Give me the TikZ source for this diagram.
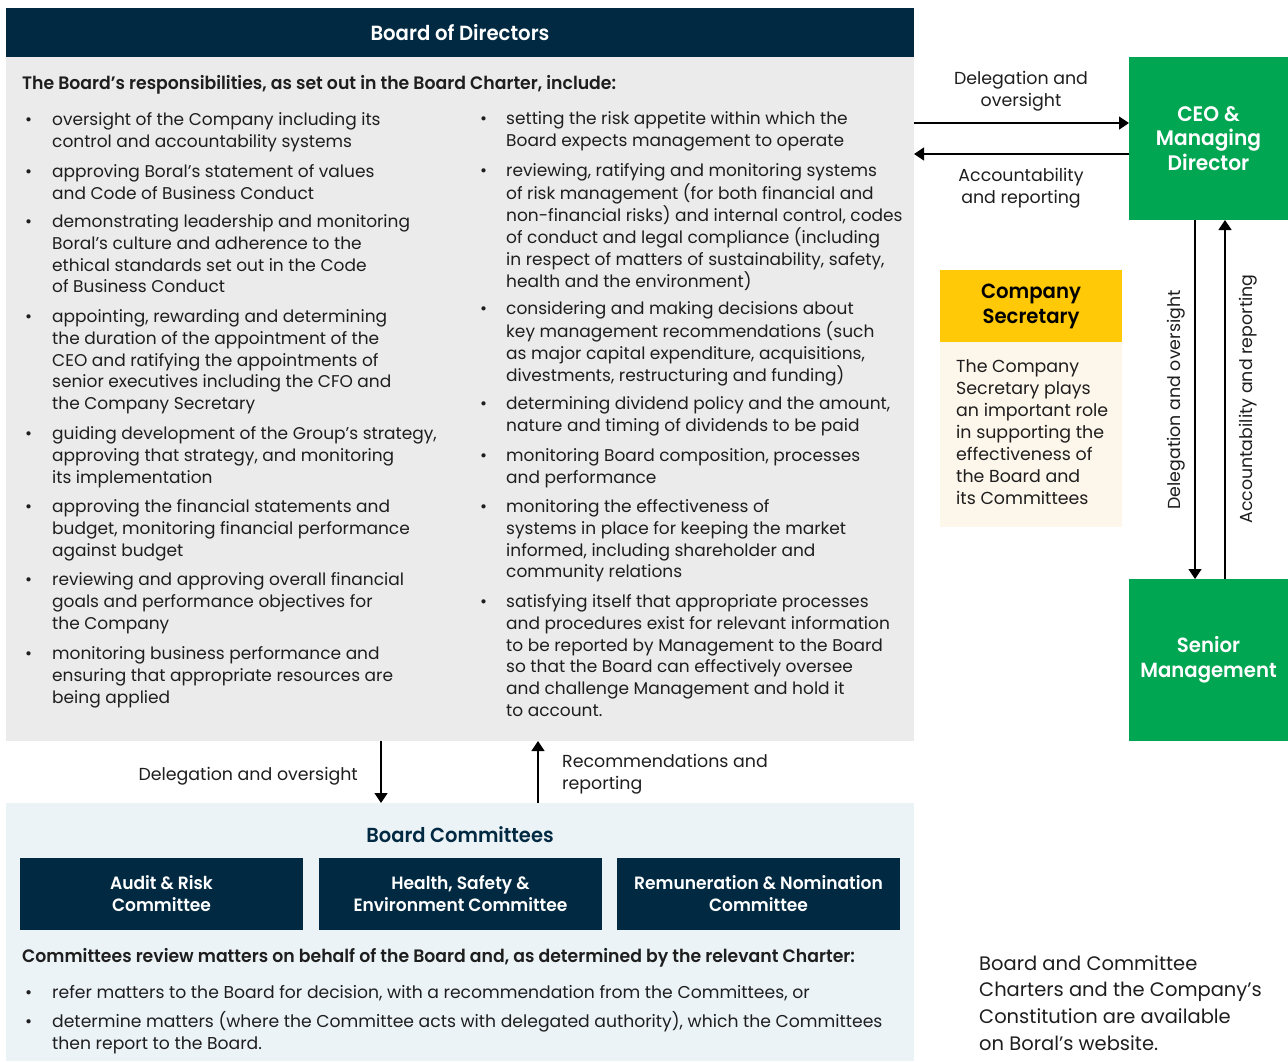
\documentclass[tikz,border=0pt]{standalone}
\usepackage{fontspec}
\setmainfont{Poppins}[BoldFont={Poppins SemiBold},BoldFeatures={FakeStretch=0.96}]
\usetikzlibrary{arrows.meta}
\definecolor{navy}{HTML}{012A42}
\definecolor{panelgray}{HTML}{EBEBEB}
\definecolor{paleblue}{HTML}{EBF3F7}
\definecolor{bgreen}{HTML}{00A651}
\definecolor{byellow}{HTML}{FFC907}
\definecolor{cream}{HTML}{FDF6EA}
\definecolor{ink}{HTML}{1E1E1E}
\newcommand\fbody{\fontsize{17}{21.9}\selectfont}
\newcommand\flab{\fontsize{17.4}{22}\selectfont}
\newcommand\fhead{\fontsize{18}{22}\selectfont\bfseries}
\newcommand\fbig{\fontsize{19.5}{26.7}\selectfont}
\newcommand\bitem[5]{%
 \node[btxt] (#1) at (#3,#4-15.33) {\strut#5};
 \node[btxt] (#1d) at (#2,#4-15.33) {\strut\textbullet};}
\newcommand\citem[5]{%
 \node[btxt,font=\fontsize{17.2}{22}\selectfont] (#1) at (#3,#4-15.4) {\strut#5};
 \node[btxt,font=\fontsize{17.2}{22}\selectfont] (#1d) at (#2,#4-15.4) {\strut\textbullet};}
\begin{document}
\begin{tikzpicture}[x=1pt,y=-1pt,
 box/.style={anchor=north west,inner sep=0pt,outer sep=0pt,draw=none},
 btxt/.style={anchor=north west,inner sep=0pt,align=left,font=\fbody,text=ink},
 lab/.style={inner sep=0pt,font=\flab,text=ink},
 arr/.style={-{Triangle[width=13pt,length=10pt]},line width=1.3pt,draw=black},
 ]
\useasboundingbox (0,0) rectangle (1288,1061);
\fill[white] (0,0) rectangle (1288,1061);
% main boxes
\node[box,fill=navy,minimum width=908pt,minimum height=49pt,text=white,font=\fontsize{20.5}{24}\selectfont\bfseries] (bod) at (6,8) {Board of Directors};
\node[box,fill=panelgray,minimum width=908pt,minimum height=684pt] (panel) at (6,57) {};
\node[box,fill=paleblue,minimum width=908pt,minimum height=258pt] (comm) at (6,803) {};
\node[box,fill=bgreen,minimum width=159pt,minimum height=163pt,text=white,align=center,font=\fontsize{21}{24.5}\selectfont\bfseries] (ceo) at (1129,57) {CEO \&\\Managing\\Director};
\node[box,fill=bgreen,minimum width=159pt,minimum height=162pt,text=white,align=center,font=\fontsize{20.5}{24.5}\selectfont\bfseries] (sm) at (1129,579) {Senior\\Management};
\node[box,fill=byellow,minimum width=182pt,minimum height=72pt,text=black,align=center,font=\fontsize{20.5}{25}\selectfont\bfseries] (cs) at (940,270) {Company\\Secretary};
\node[box,fill=cream,minimum width=182pt,minimum height=185pt] (csbox) at (940,342) {};
\node[btxt,font=\flab] (csb) at (956,372-15.4) {\strut The Company\\Secretary plays\\an important role\\in supporting the\\effectiveness of\\the Board and\\its Committees};
% committee boxes
\foreach \n/\x/\t in {ar/20/{Audit \& Risk\\Committee},hse/319/{Health, Safety \&\\Environment Committee},rn/617/{Remuneration \& Nomination\\Committee}}
 \node[box,fill=navy,minimum width=283pt,minimum height=72pt,text=white,align=center,font=\fontsize{17.8}{22}\selectfont\bfseries] (\n) at (\x,858) {\t};
% headings
\node[anchor=base west,inner sep=0pt,font=\fhead,text=ink] (ttl) at (22,89) {The Board’s responsibilities, as set out in the Board Charter, include:};
\node[anchor=base,inner sep=0pt,font=\fontsize{20.3}{24}\selectfont\bfseries,text=navy] (bct) at (460,842) {Board Committees};
\node[anchor=base west,inner sep=0pt,font=\fhead,text=ink] (cst) at (22,962) {Committees review matters on behalf of the Board and, as determined by the relevant Charter:};
% left column
\bitem{l1}{25}{52}{125}{oversight of the Company including its\\control and accountability systems}
\bitem{l2}{25}{52}{177}{approving Boral’s statement of values\\and Code of Business Conduct}
\bitem{l3}{25}{52}{227}{demonstrating leadership and monitoring\\Boral’s culture and adherence to the\\ethical standards set out in the Code\\of Business Conduct}
\bitem{l4}{25}{52}{322}{appointing, rewarding and determining\\the duration of the appointment of the\\CEO and ratifying the appointments of\\senior executives including the CFO and\\the Company Secretary}
\bitem{l5}{25}{52}{439}{guiding development of the Group’s strategy,\\approving that strategy, and monitoring\\its implementation}
\bitem{l6}{25}{52}{512}{approving the financial statements and\\budget, monitoring financial performance\\against budget}
\bitem{l7}{25}{52}{585}{reviewing and approving overall financial\\goals and performance objectives for\\the Company}
\bitem{l8}{25}{52}{659}{monitoring business performance and\\ensuring that appropriate resources are\\being applied}
% right column
\bitem{r1}{480}{506}{124}{setting the risk appetite within which the\\Board expects management to operate}
\bitem{r2}{480}{506}{176}{reviewing, ratifying and monitoring systems\\of risk management (for both financial and\\non-financial risks) and internal control, codes\\of conduct and legal compliance (including\\in respect of matters of sustainability, safety,\\health and the environment)}
\bitem{r3}{480}{506}{314}{considering and making decisions about\\key management recommendations (such\\as major capital expenditure, acquisitions,\\divestments, restructuring and funding)}
\bitem{r4}{480}{506}{409}{determining dividend policy and the amount,\\nature and timing of dividends to be paid}
\bitem{r5}{480}{506}{461}{monitoring Board composition, processes\\and performance}
\bitem{r6}{480}{506}{512}{monitoring the effectiveness of\\systems in place for keeping the market\\informed, including shareholder and\\community relations}
\bitem{r7}{480}{506}{607}{satisfying itself that appropriate processes\\and procedures exist for relevant information\\to be reported by Management to the Board\\so that the Board can effectively oversee\\and challenge Management and hold it\\to account.}
% committee bullets
\citem{c1}{25}{52}{998}{refer matters to the Board for decision, with a recommendation from the Committees, or}
\citem{c2}{25}{52}{1027}{determine matters (where the Committee acts with delegated authority), which the Committees\\then report to the Board.}
% note
\node[anchor=north west,inner sep=0pt,align=left,font=\fbig,text=ink] (note) at (979,970-18.69) {\strut Board and Committee\\Charters and the Company’s\\Constitution are available\\on Boral’s website.};
% connectors
\coordinate (h1) at (0,123);
\coordinate (h2) at (0,154);
\coordinate (v1) at (1195,0);
\coordinate (v2) at (1225,0);
\coordinate (v3) at (381,0);
\coordinate (v4) at (538,0);
\draw[arr] (panel.east |- h1) -- (ceo.west |- h1);
\draw[arr] (ceo.west |- h2) -- (panel.east |- h2);
\draw[arr] (ceo.south -| v1) -- (sm.north -| v1);
\draw[arr] (sm.north -| v2) -- (ceo.south -| v2);
\draw[arr] (panel.south -| v3) -- (comm.north -| v3);
\draw[arr] (comm.north -| v4) -- (panel.south -| v4);
% connector labels
\node[lab,anchor=base east] (la) at (358,780) {Delegation and oversight};
\node[lab,anchor=north west,align=left] (lb) at (562,767-15.4) {\strut Recommendations and\\reporting};
\node[lab,anchor=north,align=center] (lc) at (1021,84-15.4) {\strut Delegation and\\oversight};
\node[lab,anchor=north,align=center] (ld) at (1021,181-15.4) {\strut Accountability\\and reporting};
\node[lab,rotate=90] (le) at (1176,400) {Delegation and oversight};
\node[lab,rotate=90] (lf) at (1248,399) {Accountability and reporting};
\end{tikzpicture}
\end{document}
